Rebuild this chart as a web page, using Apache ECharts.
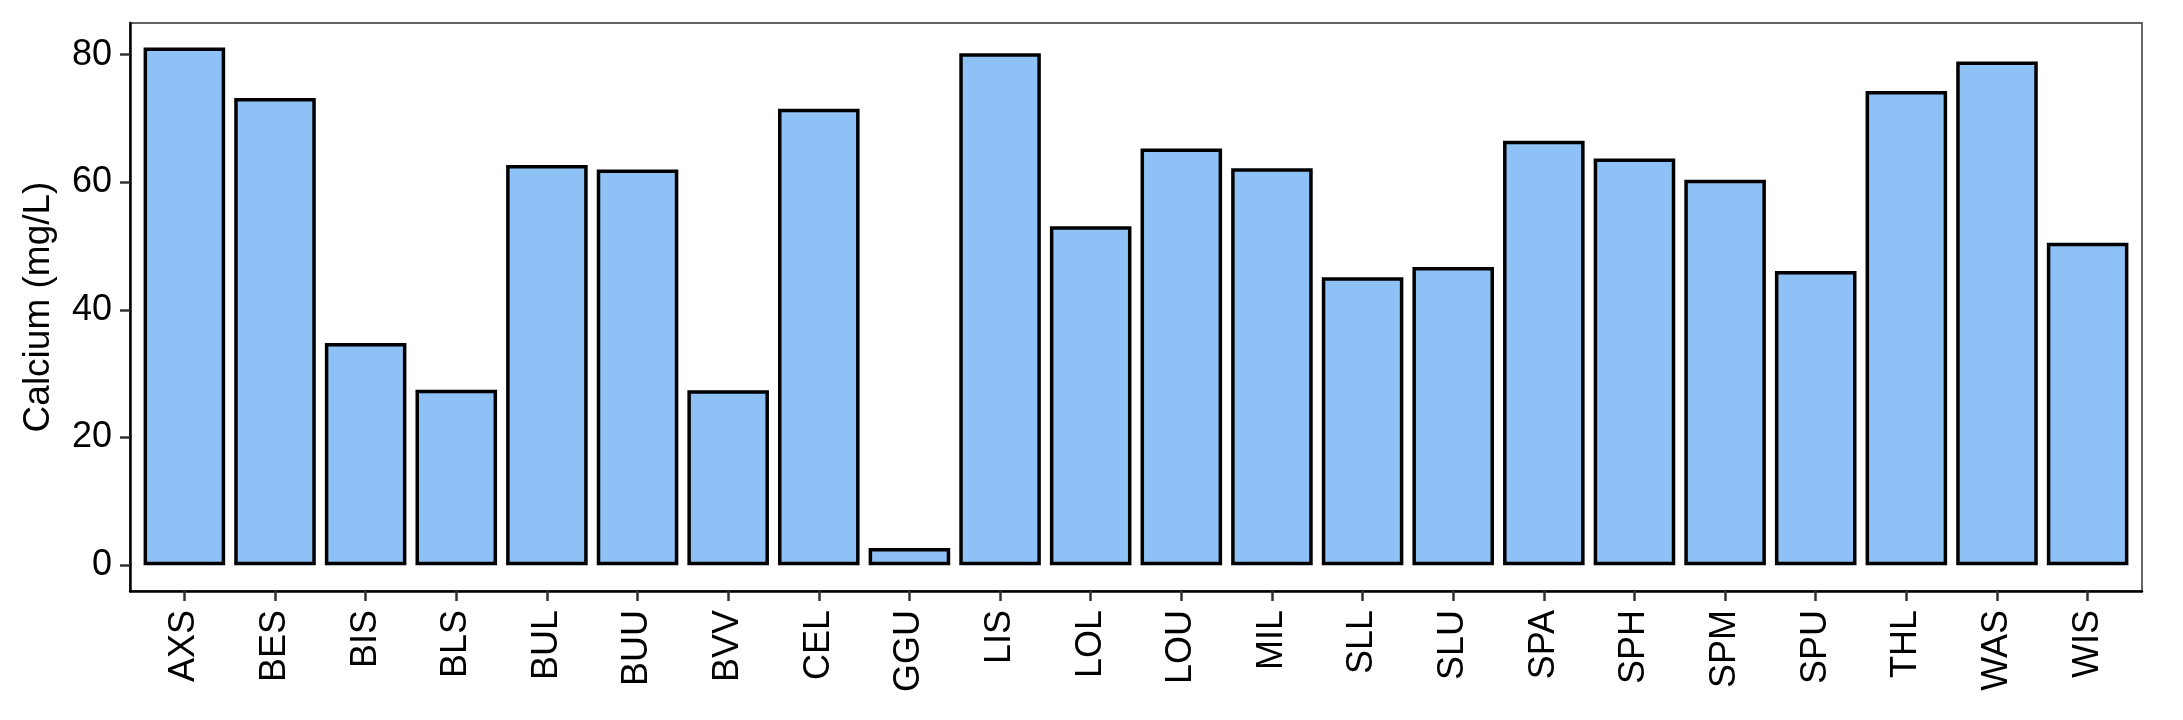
<!DOCTYPE html>
<html>
<head>
<meta charset="utf-8">
<script src="https://cdn.jsdelivr.net/npm/echarts@6/dist/echarts.min.js"></script>
<style>html,body{margin:0;padding:0;background:#fff;}#c{width:2183px;height:720px;}</style>
</head>
<body>
<div id="c"></div>
<script>
const categories = ['AXS','BES','BIS','BLS','BUL','BUU','BVV','CEL','GGU','LIS','LOL','LOU','MIL','SLL','SLU','SPA','SPH','SPM','SPU','THL','WAS','WIS'];
const calcium = [81.1, 73.2, 34.8, 27.5, 62.7, 62.0, 27.4, 71.5, 2.7, 80.2, 53.1, 65.3, 62.2, 45.1, 46.7, 66.5, 63.7, 60.4, 46.1, 74.3, 78.9, 50.5];
const yTicks = [0, 20, 40, 60, 80];
const yTitle = 'Calcium (mg/L)';

const catIdx = categories.map((c, i) => i);
const font = 'Liberation Sans, Arial, Helvetica, sans-serif';

const chart = echarts.init(document.getElementById('c'), null, {renderer: 'canvas'});
chart.setOption({
  backgroundColor: '#ffffff',
  animation: false,
  grid: {
    left: 130, right: 41, top: 23, bottom: 129,
    show: true, borderColor: '#333333', borderWidth: 1.5, backgroundColor: '#ffffff'
  },
  xAxis: {
    type: 'value',
    min: -0.6, max: categories.length - 1 + 0.6,
    splitLine: {show: false},
    axisLine: {show: true, onZero: false, lineStyle: {color: '#000', width: 2.5}},
    axisTick: {show: true, customValues: catIdx, length: 10, lineStyle: {color: '#333', width: 2.5}},
    axisLabel: {
      customValues: catIdx,
      formatter: v => categories[Math.round(v)],
      rotate: 90, margin: 19, fontSize: 36, color: '#000', fontFamily: font
    }
  },
  yAxis: {
    type: 'value',
    min: -4.05, max: 84.95,
    splitLine: {show: false},
    axisLine: {show: true, onZero: false, lineStyle: {color: '#000', width: 2.5}},
    axisTick: {show: true, customValues: yTicks, length: 10, lineStyle: {color: '#333', width: 2.5}},
    axisLabel: {customValues: yTicks, margin: 18, fontSize: 36, color: '#000', fontFamily: font},
    name: yTitle, nameLocation: 'middle', nameGap: 73, nameRotate: 90,
    nameTextStyle: {fontSize: 37, color: '#000', fontFamily: font}
  },
  series: [{
    type: 'bar',
    data: calcium.map((v, i) => [i, v]),
    barWidth: '90%',
    itemStyle: {color: '#8EC1F5', borderColor: '#000', borderWidth: 3.5}
  }]
});
</script>
</body>
</html>
